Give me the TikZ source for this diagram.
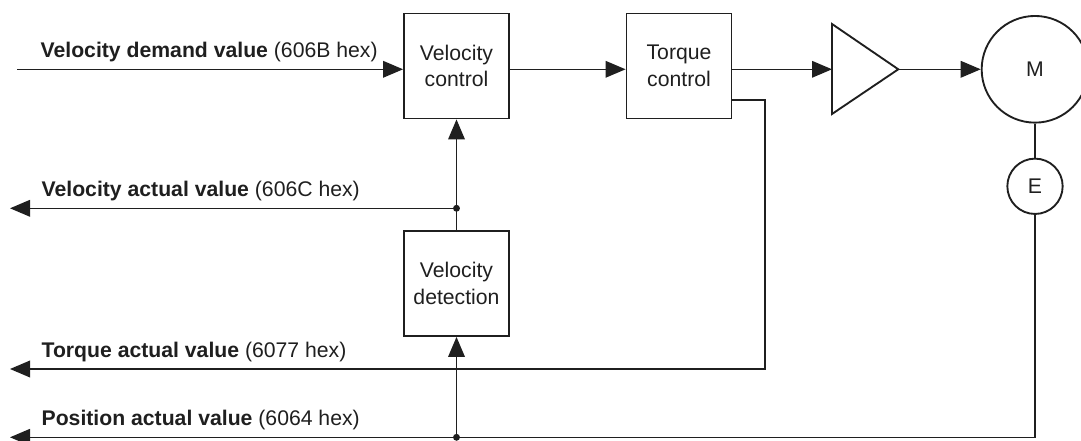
\documentclass[tikz,border=0pt]{standalone}
\usepackage{fontspec}
\setmainfont{Liberation Sans}
\usetikzlibrary{arrows.meta,positioning,calc}

\begin{document}
\begin{tikzpicture}[x=0.75pt,y=-0.75pt,
    font=\fontsize{15.9}{20}\selectfont, color=black!88, line width=0.95pt,
    block/.style={draw, line width=1.4pt, minimum width=78.75pt, minimum height=78.75pt, inner sep=0pt, align=center},
    ring/.style={draw, circle, line width=1.4pt, inner sep=0pt},
    sig/.style={-{Triangle[length=15pt,width=12.5pt]}},
    lbl/.style={anchor=base west, inner sep=0pt}]
    \useasboundingbox (0,0) rectangle (1081,441);
    % Blocks
    \node[block] (vc) at (456.5,66) {Velocity\\control};
    \node[block] (tc) at (679,66) {Torque\\control};
    \node[block] (vd) at (456.5,283.5) {Velocity\\detection};
    % Motor and encoder
    \node[ring, minimum size=80pt] (mot) at (1035,69.3) {M};
    \node[ring, minimum size=41.5pt] (enc) at (1035,186.3) {E};
    % Amplifier
    \coordinate (amp-in) at (832,69.3);
    \coordinate (amp-out) at (898.3,69.3);
    \draw[line width=1.4pt] (832,24) -- (amp-out) -- (832,114) -- cycle;

    % Forward path
    \coordinate (dem) at (17,69.3);
    \draw[sig] (dem) -- (dem -| vc.west);
    \draw[sig] (vc.east |- dem) -- (tc.west |- dem);
    \draw[sig] (tc.east |- dem) -- (amp-in);
    \draw[sig] (amp-out) -- (mot.west);
    \draw (mot.south) -- (enc.north);

    % Feedback lines
    \coordinate (va-end) at (10,208.3);
    \coordinate (tq-end) at (10,369);
    \coordinate (pos-end) at (10,437.3);
    \coordinate (tq-bend) at (765,100);
    \coordinate (jv) at (vd.north |- va-end);
    \coordinate (jp) at (vd.south |- pos-end);
    \draw[sig] (vd.north) -- (vc.south);
    \draw[sig] (jv) -- (va-end);
    \draw[sig] (tq-bend -| tc.east) -- (tq-bend) |- (tq-end);
    \draw[sig] (enc.south) |- (pos-end);
    \draw[sig] (jp) -- (vd.south);
    \fill (jv) circle (2.6pt);
    \fill (jp) circle (2.6pt);

    % Labels
    \node[lbl] (dem-lbl) at (40,57.7) {\textbf{Velocity demand value} (606B hex)};
    \node[lbl] (va-lbl) at (41,196.7) {\textbf{Velocity actual value} (606C hex)};
    \node[lbl] (tq-lbl) at (41,357.7) {\textbf{Torque actual value} (6077 hex)};
    \node[lbl] (pos-lbl) at (41,425) {\textbf{Position actual value} (6064 hex)};
\end{tikzpicture}
\end{document}
